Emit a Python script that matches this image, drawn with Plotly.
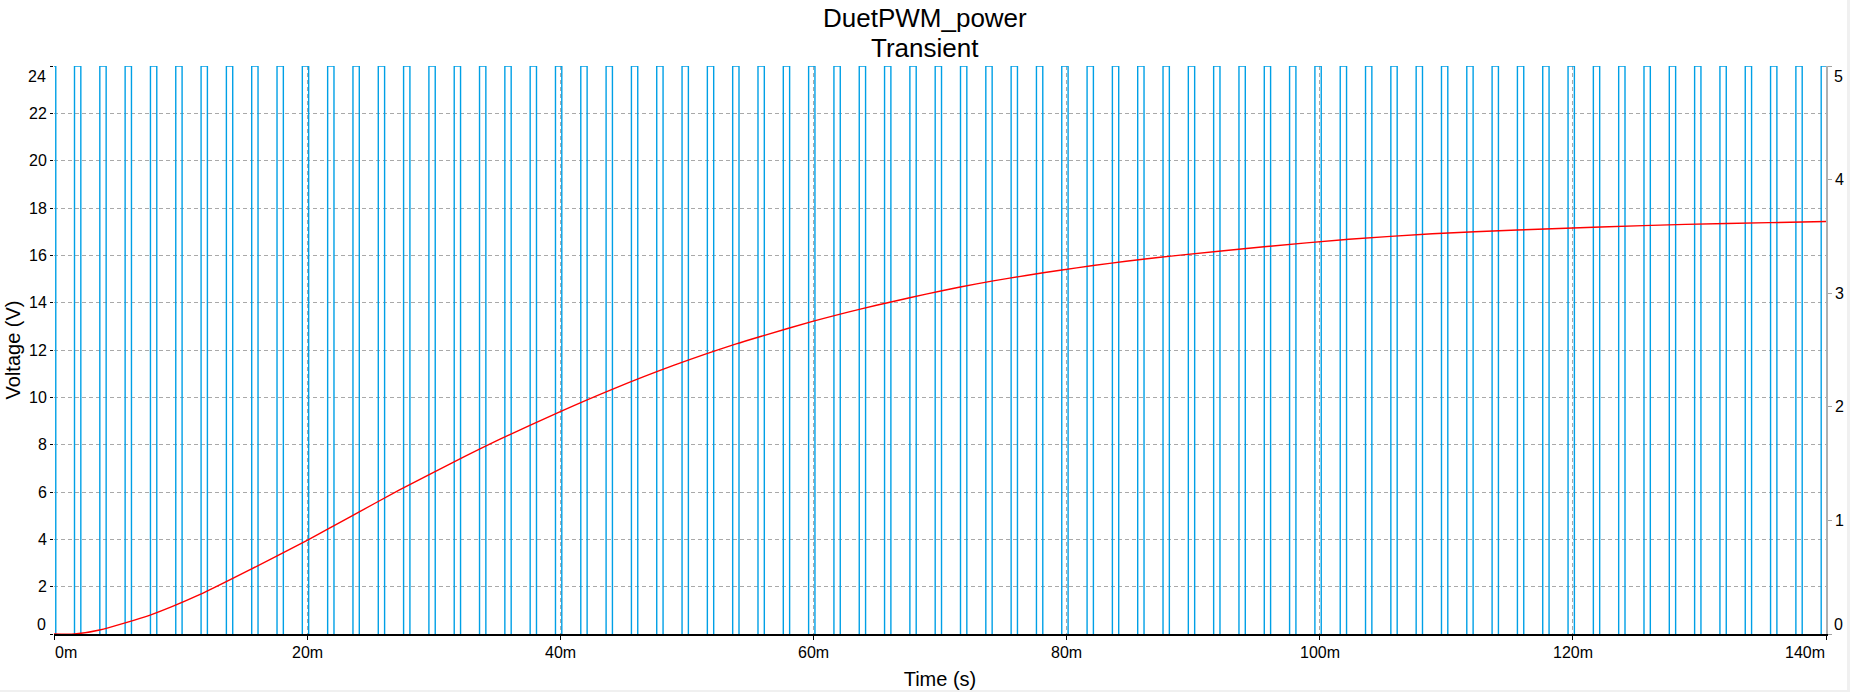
import plotly.graph_objects as go

# ---------------- data ----------------
# PWM drive signal (right axis, volts): pulse on/off edge times in ms
pwm_on_ms = [0.0, 1.62, 3.62, 5.62, 7.62, 9.62, 11.62, 13.62, 15.62, 17.62, 19.62,
             21.62, 23.62, 25.62, 27.62, 29.62, 31.62, 33.62, 35.62, 37.62, 39.62,
             41.62, 43.62, 45.62, 47.62, 49.62, 51.62, 53.62, 55.62, 57.62, 59.62,
             61.62, 63.62, 65.62, 67.62, 69.62, 71.62, 73.62, 75.62, 77.62, 79.62,
             81.62, 83.62, 85.62, 87.62, 89.62, 91.62, 93.62, 95.62, 97.62, 99.62,
             101.62, 103.62, 105.62, 107.62, 109.62, 111.62, 113.62, 115.62, 117.62, 119.62,
             121.62, 123.62, 125.62, 127.62, 129.62, 131.62, 133.62, 135.62, 137.62, 139.62]
pwm_off_ms = [0.14, 2.12, 4.12, 6.12, 8.12, 10.12, 12.12, 14.12, 16.12, 18.12, 20.12,
              22.12, 24.12, 26.12, 28.12, 30.12, 32.12, 34.12, 36.12, 38.12, 40.12,
              42.12, 44.12, 46.12, 48.12, 50.12, 52.12, 54.12, 56.12, 58.12, 60.12,
              62.12, 64.12, 66.12, 68.12, 70.12, 72.12, 74.12, 76.12, 78.12, 80.12,
              82.12, 84.12, 86.12, 88.12, 90.12, 92.12, 94.12, 96.12, 98.12, 100.12,
              102.12, 104.12, 106.12, 108.12, 110.12, 112.12, 114.12, 116.12, 118.12, 120.12,
              122.12, 124.12, 126.12, 128.12, 130.12, 132.12, 134.12, 136.12, 138.12, 140.12]
pwm_low_v = 0.0
pwm_high_v = 5.0

# Output voltage (left axis)
out_t_ms = [0.0, 1.6, 3.6, 7.6, 11.5, 15.5, 20.0, 23.4, 27.3, 31.3, 35.2, 40.0,
            44.1, 49.0, 53.9, 56.0, 60.0, 63.7, 66.3, 68.9, 71.6, 74.2, 76.8,
            79.5, 82.1, 84.7, 87.4, 89.0, 95.6, 102.3, 108.9, 115.6, 122.2,
            128.9, 135.5, 140.0]
out_v = [0.0, 0.0, 0.17, 0.80, 1.66, 2.72, 3.96, 4.95, 6.09, 7.19, 8.22, 9.40,
         10.34, 11.36, 12.26, 12.60, 13.22, 13.73, 14.05, 14.36, 14.66, 14.92, 15.15,
         15.37, 15.57, 15.75, 15.92, 16.01, 16.36, 16.68, 16.91, 17.07, 17.20,
         17.31, 17.38, 17.43]

x_tick_vals = [0, 20, 40, 60, 80, 100, 120, 140]
x_tick_labels = ["0m", "20m", "40m", "60m", "80m", "100m", "120m", "140m"]
left_tick_vals = [0, 2, 4, 6, 8, 10, 12, 14, 16, 18, 20, 22, 24]
left_tick_labels = ["0", "2", "4", "6", "8", "10", "12", "14", "16", "18", "20", "22", "24"]
right_tick_vals = [0, 1, 2, 3, 4, 5]
right_tick_labels = ["0", "1", "2", "3", "4", "5"]

title_line1 = "DuetPWM_power"
title_line2 = "Transient"
x_title = "Time (s)"
y_title = "Voltage (V)"

# ---------------- build PWM outline (rising edge, top, falling edge) ----------------
pwm_x, pwm_y = [], []
for i, (t_on, t_off) in enumerate(zip(pwm_on_ms, pwm_off_ms)):
    if i == 0:
        pwm_x += [t_on, t_off, t_off, None]
        pwm_y += [pwm_high_v, pwm_high_v, pwm_low_v, None]
    else:
        pwm_x += [t_on, t_on, t_off, t_off, None]
        pwm_y += [pwm_low_v, pwm_high_v, pwm_high_v, pwm_low_v, None]

FONT = "Liberation Sans, Arial, sans-serif"
GRID = "#a9a9a9"
TICKFONT = dict(size=16, color="black", family=FONT)

fig = go.Figure()
fig.add_trace(go.Scatter(x=pwm_x, y=pwm_y, yaxis="y", mode="lines",
                         line=dict(color="#00a0e6", width=1.4), showlegend=False,
                         connectgaps=False, name="PWM"))
fig.add_trace(go.Scatter(x=out_t_ms, y=out_v, yaxis="y2", mode="lines",
                         line=dict(color="#ff0000", width=1.4, shape="spline", smoothing=0.6),
                         showlegend=False, name="Vout"))

annotations = []
# x tick labels (end labels kept inside the plot width, as in the reference)
for v, lab in zip(x_tick_vals, x_tick_labels):
    anchor = "center"
    if v == x_tick_vals[0]:
        anchor = "left"
    elif v == x_tick_vals[-1]:
        anchor = "right"
    annotations.append(dict(x=v, xref="x", y=0, yref="paper", text=lab,
                            showarrow=False, xanchor=anchor, yanchor="middle",
                            yshift=-18.5, font=TICKFONT, borderpad=0))

# end labels of the y axes are nudged inside the plot height
left_txt = [("" if v in (left_tick_vals[0], left_tick_vals[-1]) else lab)
            for v, lab in zip(left_tick_vals, left_tick_labels)]
right_txt = [("" if v in (right_tick_vals[0], right_tick_vals[-1]) else lab)
             for v, lab in zip(right_tick_vals, right_tick_labels)]
for v, lab, shift in [(left_tick_vals[0], left_tick_labels[0], 10),
                      (left_tick_vals[-1], left_tick_labels[-1], -10)]:
    annotations.append(dict(x=0, xref="paper", y=v, yref="y2", text=lab, showarrow=False,
                            xanchor="right", yanchor="middle", xshift=-7, yshift=shift,
                            font=TICKFONT, borderpad=0))
for v, lab, shift in [(right_tick_vals[0], right_tick_labels[0], 10),
                      (right_tick_vals[-1], right_tick_labels[-1], -10)]:
    annotations.append(dict(x=1, xref="paper", y=v, yref="y", text=lab, showarrow=False,
                            xanchor="left", yanchor="middle", xshift=7, yshift=shift,
                            font=TICKFONT, borderpad=0))

title_x = (925 - 54) / 1772
annotations.append(dict(x=title_x, xref="paper", y=1, yref="paper", text=title_line1,
                        showarrow=False, xanchor="center", yanchor="middle", yshift=48.5,
                        font=dict(size=26, color="black", family=FONT), borderpad=0))
annotations.append(dict(x=title_x, xref="paper", y=1, yref="paper", text=title_line2,
                        showarrow=False, xanchor="center", yanchor="middle", yshift=18.5,
                        font=dict(size=26, color="black", family=FONT), borderpad=0))

shapes = [
    dict(type="rect", xref="paper", yref="paper", x0=(1847 - 54) / 1772, x1=1.03,
         y0=-0.2, y1=1.2, fillcolor="#f0f0f0", line=dict(width=0), layer="above"),
    dict(type="rect", xref="paper", yref="paper", x0=-0.05, x1=1.03,
         y0=(634 - 700) / 568, y1=(634 - 690) / 568, fillcolor="#f0f0f0",
         line=dict(width=0), layer="above"),
]

fig.update_layout(
    width=1850, height=692,
    margin=dict(l=54, r=24, t=66, b=58, autoexpand=False),
    paper_bgcolor="white", plot_bgcolor="white",
    font=dict(family=FONT, color="black", size=16),
    showlegend=False,
    annotations=annotations,
    shapes=shapes,
    xaxis=dict(range=[0, 140], tickvals=x_tick_vals, showticklabels=False,
               ticks="outside", ticklen=4, tickcolor="black", tickwidth=1,
               showline=True, linecolor="black", linewidth=1.5,
               showgrid=True, gridcolor=GRID, griddash="4px,3px", gridwidth=1,
               zeroline=False,
               title=dict(text=x_title, font=dict(size=20, family=FONT), standoff=33)),
    yaxis=dict(range=[0, 5], side="right", tickvals=right_tick_vals, ticktext=right_txt,
               ticks="outside", ticklen=4, tickcolor="#a0a0a0",
               showline=True, linecolor="#b0b0b0", linewidth=1.5,
               showgrid=False, zeroline=False, tickfont=TICKFONT),
    yaxis2=dict(range=[0, 24], side="left", overlaying="y", tickvals=left_tick_vals,
                ticktext=left_txt,
                ticks="outside", ticklen=3, tickcolor="black",
                showline=False, showgrid=True, gridcolor=GRID, griddash="4px,3px",
                gridwidth=1, zeroline=False, tickfont=TICKFONT,
                title=dict(text=y_title, font=dict(size=20, family=FONT), standoff=3)),
)

fig.write_html("out.html")
